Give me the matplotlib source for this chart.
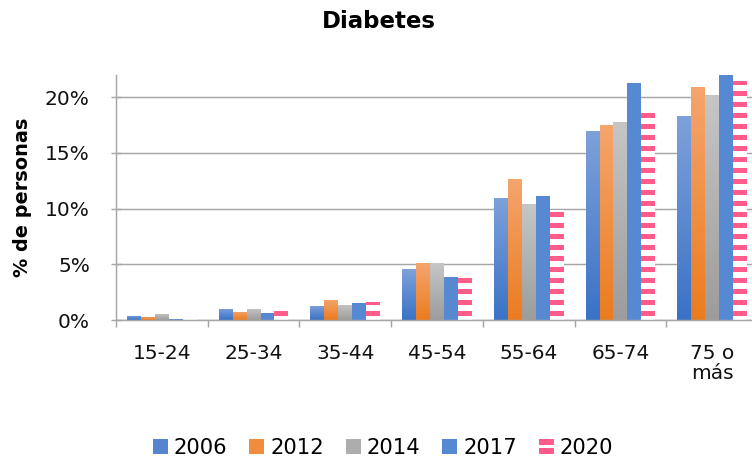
import matplotlib
matplotlib.use('Agg')
import matplotlib.pyplot as plt
import numpy as np
from matplotlib.patches import Patch, Rectangle
from matplotlib.colors import LinearSegmentedColormap
from matplotlib.ticker import FuncFormatter, MultipleLocator, FixedLocator
from matplotlib.legend_handler import HandlerBase

categories = ['15-24', '25-34', '35-44', '45-54', '55-64', '65-74', '75 o\nmás']
years = ['2006', '2012', '2014', '2017', '2020']
v2006 = [0.36, 1.0, 1.26, 4.57, 11.0, 16.95, 18.3]
v2012 = [0.27, 0.72, 1.8, 5.1, 12.7, 17.5, 20.9]
v2014 = [0.54, 1.0, 1.35, 5.1, 10.4, 17.8, 20.2]
v2017 = [0.09, 0.66, 1.5, 3.9, 11.1, 21.3, 22.0]
v2020 = [0.4, 0.8, 1.6, 4.3, 9.9, 18.6, 21.5]

PINK = '#FF5C8A'
DPI = 66
plt.rcParams['font.family'] = ['DejaVu Sans']
plt.rcParams['hatch.linewidth'] = 5.5
fig = plt.figure(figsize=(752 / DPI, 465 / DPI), dpi=DPI)
ax = fig.add_axes([116 / 752, 145 / 465, 642 / 752, 245 / 465])

x = np.arange(len(categories))
bw = 0.152
offsets = (np.arange(5) - 2) * bw

grad_specs = [
    (v2006, '#3A72C6', '#7EA1DA'),
    (v2012, '#EB7C1E', '#F5A56E'),
    (v2014, '#9C9C9C', '#C6C6C6'),
]
grad = np.linspace(0, 1, 256).reshape(-1, 1)
handles = []
for i, (vals, bot, top) in enumerate(grad_specs):
    bars = ax.bar(x + offsets[i], vals, bw, color='none', linewidth=0, zorder=2)
    cmap = LinearSegmentedColormap.from_list('g%d' % i, [bot, top])
    for b in bars:
        x0, w, h = b.get_x(), b.get_width(), b.get_height()
        im = ax.imshow(grad, extent=[x0, x0 + w, 0, h], origin='lower', cmap=cmap,
                       aspect='auto', zorder=2, interpolation='bilinear')
        im.set_clip_path(b)
    handles.append(Patch(facecolor=cmap(0.4), edgecolor='none', label=years[i]))

ax.bar(x + offsets[3], v2017, bw, color='#5689D2', linewidth=0, zorder=2)
handles.append(Patch(facecolor='#5689D2', edgecolor='none', label=years[3]))
ax.bar(x + offsets[4], v2020, bw, facecolor='white', edgecolor=PINK, hatch='-',
       linewidth=0, zorder=2)
stripe_handle = Patch(facecolor=PINK, label=years[4])
handles.append(stripe_handle)


class StripeHandler(HandlerBase):
    def create_artists(self, legend, orig_handle, xdescent, ydescent, width, height,
                       fontsize, trans):
        arts = []
        for k in (0.0, 0.62):
            r = Rectangle((-xdescent, -ydescent + k * height), width, height * 0.38,
                          facecolor=PINK, edgecolor='none', transform=trans)
            arts.append(r)
        return arts


ax.set_xlim(-0.5, len(categories) - 0.5)
ax.set_ylim(0, 22)
ax.yaxis.set_major_locator(MultipleLocator(5))
ax.yaxis.set_major_formatter(FuncFormatter(lambda v, p: f'{int(v)}%'))
ax.grid(axis='y', color='#A6A6A6', linewidth=1.6, zorder=0)
ax.set_axisbelow(True)
for s in ['top', 'right']:
    ax.spines[s].set_visible(False)
for s in ['left', 'bottom']:
    ax.spines[s].set_color('#A6A6A6')
    ax.spines[s].set_linewidth(1.6)

ax.set_xticks(x)
ax.set_xticklabels(categories, fontsize=22, color='#111111', linespacing=1.1, va='top')
ax.xaxis.set_minor_locator(FixedLocator(np.arange(len(categories)) - 0.5))
ax.tick_params(axis='x', which='major', length=0, pad=26)
ax.tick_params(axis='x', which='minor', length=7.5, width=1.6, color='#A6A6A6', direction='out')
ax.tick_params(axis='y', length=11, width=1.6, color='#A6A6A6', labelsize=22, pad=23,
               labelcolor='#111111', direction='inout')

ax.set_ylabel('% de personas', fontsize=21, fontweight='bold', labelpad=0)
ax.yaxis.set_label_coords(-84 / 642, 0.5)
fig.text(379 / 752, 1 - 21 / 465, 'Diabetes', ha='center', va='center', fontsize=25,
         fontweight='bold')

fig.legend(handles=handles, loc='center', bbox_to_anchor=(383 / 752, 1 - 448 / 465),
           ncol=5, frameon=False, fontsize=23, handlelength=0.71, handleheight=0.71,
           handletextpad=0.28, columnspacing=1.04,
           handler_map={stripe_handle: StripeHandler()})

fig.savefig('out.png', dpi=DPI)
